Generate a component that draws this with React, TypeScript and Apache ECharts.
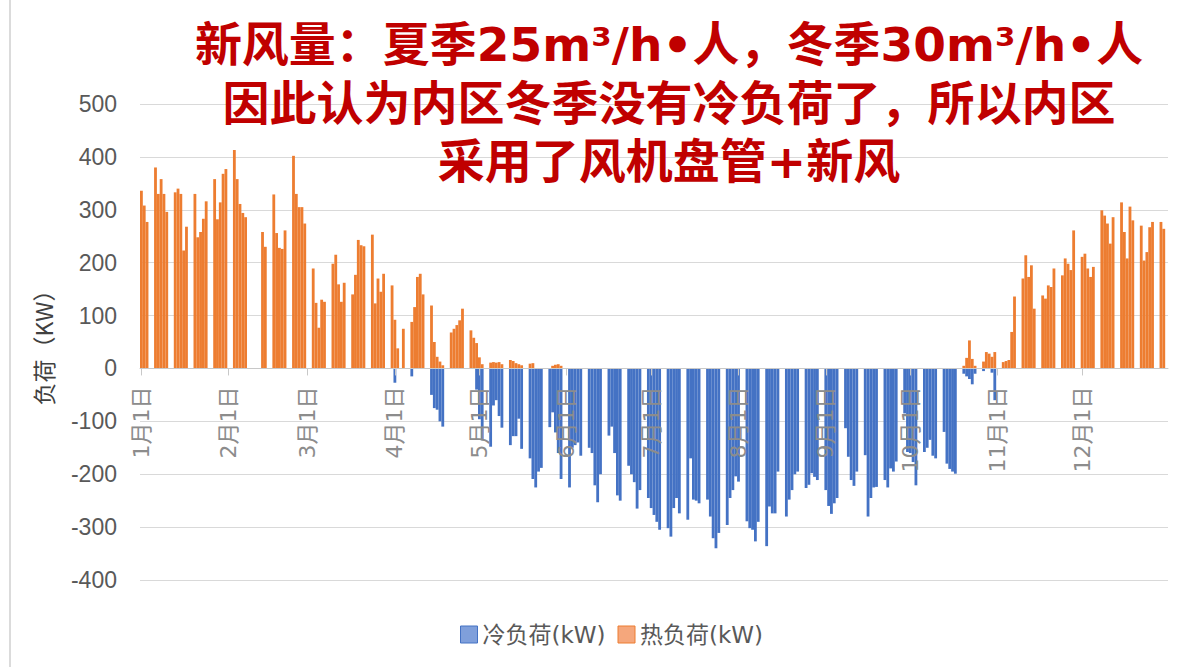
import React, { useEffect, useRef } from 'react';
import * as echarts from 'echarts';

// ---------- data ----------
const MONTH_DAYS = [31, 28, 31, 30, 31, 30, 31, 31, 30, 31, 30, 31];
const COOL_NAME = '冷负荷(kW)';
const HEAT_NAME = '热负荷(kW)';
const Y_NAME = '负荷（KW）';
const TITLE_LINES = [
  '新风量：夏季25m³/h•人，冬季30m³/h•人',
  '因此认为内区冬季没有冷负荷了，所以内区',
  '采用了风机盘管+新风',
];
const Y_MIN = -400;
const Y_MAX = 500;
const Y_STEP = 100;

// daily categories 1月1日 … 12月31日
const days: string[] = [];
MONTH_DAYS.forEach((n, m) => {
  for (let d = 1; d <= n; d++) days.push(`${m + 1}月${d}日`);
});

// heating load (kW), one value per day; rows are Mon–Sun weeks (first row Wed 1/1 – Sun 1/5)
const heatLoad = [
  336, 308, 277, 0, 0, // 1/1
  380, 330, 358, 330, 296, 0, 0, // 1/6
  333, 340, 330, 223, 268, 0, 0, // 1/13
  330, 248, 258, 283, 316, 0, 0, // 1/20
  358, 282, 314, 368, 377, 0, 0, // 1/27
  413, 358, 311, 294, 286, 0, 0, // 2/3
  0, 0, 0, 258, 230, 0, 0, // 2/10
  329, 256, 228, 226, 261, 0, 0, // 2/17
  402, 330, 305, 305, 274, 0, 0, // 2/24
  189, 124, 77, 130, 126, 0, 0, // 3/3
  198, 215, 159, 126, 162, 0, 0, // 3/10
  140, 177, 243, 233, 231, 0, 0, // 3/17
  253, 123, 170, 145, 179, 0, 0, // 3/24
  157, 92, 38, 0, 75, 0, 0, // 3/31
  88, 116, 173, 179, 140, 0, 0, // 4/7
  119, 50, 22, 13, 6, 0, 0, // 4/14
  68, 75, 82, 91, 113, 0, 0, // 4/21
  72, 58, 48, 21, 8, 0, 0, // 4/28
  11, 12, 11, 12, 8, 0, 0, // 5/5
  16, 14, 10, 8, 6, 0, 0, // 5/12
  9, 10, 0, 0, 0, 0, 0, // 5/19
  0, 5, 7, 8, 5, 0, 0, // 5/26
  0, 0, 0, 0, 0, 0, 0, // 6/2
  0, 0, 0, 0, 0, 0, 0, // 6/9
  0, 0, 0, 0, 0, 0, 0, // 6/16
  0, 0, 0, 0, 0, 0, 0, // 6/23
  0, 0, 0, 0, 0, 0, 0, // 6/30
  0, 0, 0, 0, 0, 0, 0, // 7/7
  0, 0, 0, 0, 0, 0, 0, // 7/14
  0, 0, 0, 0, 0, 0, 0, // 7/21
  0, 0, 0, 0, 0, 0, 0, // 7/28
  0, 0, 0, 0, 0, 0, 0, // 8/4
  0, 0, 0, 0, 0, 0, 0, // 8/11
  0, 0, 0, 0, 0, 0, 0, // 8/18
  0, 0, 0, 0, 0, 0, 0, // 8/25
  0, 0, 0, 0, 0, 0, 0, // 9/1
  0, 0, 0, 0, 0, 0, 0, // 9/8
  0, 0, 0, 0, 0, 0, 0, // 9/15
  0, 0, 0, 0, 0, 0, 0, // 9/22
  0, 0, 0, 0, 0, 0, 0, // 9/29
  0, 0, 0, 0, 0, 0, 0, // 10/6
  0, 0, 0, 0, 0, 0, 0, // 10/13
  5, 20, 53, 18, 5, 0, 0, // 10/20
  13, 31, 28, 22, 31, 0, 0, // 10/27
  12, 14, 16, 69, 136, 0, 0, // 11/3
  170, 214, 173, 195, 113, 0, 0, // 11/10
  138, 132, 157, 154, 189, 0, 0, // 11/17
  176, 208, 198, 186, 261, 0, 0, // 11/24
  211, 217, 189, 173, 192, 0, 0, // 12/1
  299, 289, 274, 236, 286, 0, 0, // 12/8
  314, 258, 208, 306, 280, 0, 0, // 12/15
  270, 204, 220, 267, 277, 0, 0, // 12/22
  277, 264, 0, // 12/29
];

// cooling load (kW), same layout
const coolLoad = [
  0, 0, 0, 0, 0, // 1/1
  0, 0, 0, 0, 0, 0, 0, // 1/6
  0, 0, 0, 0, 0, 0, 0, // 1/13
  0, 0, 0, 0, 0, 0, 0, // 1/20
  0, 0, 0, 0, 0, 0, 0, // 1/27
  0, 0, 0, 0, 0, 0, 0, // 2/3
  0, 0, 0, 0, 0, 0, 0, // 2/10
  0, 0, 0, 0, 0, 0, 0, // 2/17
  0, 0, 0, 0, 0, 0, 0, // 2/24
  0, 0, 0, 0, 0, 0, 0, // 3/3
  0, 0, 0, 0, 0, 0, 0, // 3/10
  0, 0, 0, 0, 0, 0, 0, // 3/17
  0, 0, 0, 0, 0, 0, 0, // 3/24
  0, -27, 0, 0, 0, 0, 0, // 3/31
  -15, 0, 0, 0, 0, 0, 0, // 4/7
  -50, -75, -78, -100, -110, 0, 0, // 4/14
  0, 0, 0, 0, 0, 0, 0, // 4/21
  0, 0, -40, -96, -136, 0, 0, // 4/28
  -148, -70, -60, -90, -112, 0, 0, // 5/5
  -145, -128, -128, -95, -152, 0, 0, // 5/12
  -170, -209, -225, -195, -188, 0, 0, // 5/19
  -111, -83, -121, -160, -209, 0, 0, // 5/26
  -225, -150, -145, -140, -165, 0, 0, // 6/2
  -150, -160, -221, -253, -200, 0, 0, // 6/9
  -127, -110, -160, -240, -250, 0, 0, // 6/16
  -184, -200, -215, -265, -230, 0, 0, // 6/23
  -245, -264, -277, -290, -305, 0, 0, // 6/30
  -302, -318, -264, -245, -274, 0, 0, // 7/7
  -286, -170, -248, -250, -255, 0, 0, // 7/14
  -248, -280, -321, -340, -311, 0, 0, // 7/21
  -296, -245, -230, -204, -214, 0, 0, // 7/28
  -289, -302, -305, -327, -290, 0, 0, // 8/4
  -336, -261, -274, -274, -195, 0, 0, // 8/11
  -280, -248, -230, -200, -195, 0, 0, // 8/18
  -226, -220, -198, -205, -211, 0, 0, // 8/25
  -230, -260, -275, -255, -245, 0, 0, // 9/1
  -113, -167, -211, -222, -195, 0, 0, // 9/8
  -164, -280, -245, -225, -224, 0, 0, // 9/15
  -211, -225, -189, -195, -176, 0, 0, // 9/22
  -85, -158, -160, -177, -221, 0, 0, // 9/29
  -158, -150, -135, -165, -170, 0, 0, // 10/6
  -120, -180, -190, -195, -199, 0, 0, // 10/13
  -10, -15, -20, -30, -10, 0, 0, // 10/20
  -5, 0, 0, -8, -60, 0, 0, // 10/27
  0, 0, 0, 0, 0, 0, 0, // 11/3
  0, 0, 0, 0, 0, 0, 0, // 11/10
  0, 0, 0, 0, 0, 0, 0, // 11/17
  0, 0, 0, 0, 0, 0, 0, // 11/24
  0, 0, 0, 0, 0, 0, 0, // 12/1
  0, 0, 0, 0, 0, 0, 0, // 12/8
  0, 0, 0, 0, 0, 0, 0, // 12/15
  0, 0, 0, 0, 0, 0, 0, // 12/22
  0, 0, 0, // 12/29
];

const CJK = '"Noto Sans CJK SC", "Noto Sans", sans-serif';
const WIDE = '"DejaVu Sans", "Noto Sans CJK SC", sans-serif';
const isMonthStart = (_i: number, v: string) => String(v).endsWith('月1日');

const GRID_TOP = 104;
const GRID_BOTTOM = 87;
const CHART_H = 667;

export default function App() {
  const ref = useRef<HTMLDivElement>(null);
  useEffect(() => {
    if (!ref.current) return;
    const chart = echarts.init(ref.current, null, { renderer: 'svg' });
    // move the category axis (line, ticks, labels) up to the value 0
    const plotH = CHART_H - GRID_TOP - GRID_BOTTOM;
    const zeroFromBottom = (plotH * (0 - Y_MIN)) / (Y_MAX - Y_MIN);
    chart.setOption({
      animation: false,
      backgroundColor: '#ffffff',
      grid: { left: 140, right: 18, top: GRID_TOP, bottom: GRID_BOTTOM },
      legend: {
        left: 455,
        top: 618,
        icon: 'rect',
        itemWidth: 17,
        itemHeight: 17,
        itemGap: 12,
        textStyle: { fontSize: 23, color: '#595959', fontFamily: WIDE },
        data: [
          { name: COOL_NAME, itemStyle: { color: '#7f9fdb', borderColor: '#4472c4', borderWidth: 1 } },
          { name: HEAT_NAME, itemStyle: { color: '#f5a77c', borderColor: '#ed7d31', borderWidth: 1 } },
        ],
      },
      xAxis: {
        type: 'category',
        data: days,
        boundaryGap: true,
        z: 10,
        offset: -zeroFromBottom,
        axisLine: { onZero: false, lineStyle: { color: '#c8c8c8', width: 1 } },
        axisTick: { show: true, interval: isMonthStart, alignWithLabel: true, length: 7, lineStyle: { color: '#c8c8c8' } },
        axisLabel: { interval: isMonthStart, rotate: 90, margin: 18, fontSize: 22, color: '#8c8c8c', fontFamily: WIDE },
        splitLine: { show: false },
      },
      yAxis: {
        type: 'value',
        min: Y_MIN,
        max: Y_MAX,
        interval: Y_STEP,
        name: Y_NAME,
        nameLocation: 'middle',
        nameGap: 86,
        nameRotate: 90,
        nameTextStyle: { fontSize: 23, color: '#404040', fontFamily: CJK },
        axisLine: { show: false },
        axisTick: { show: false },
        axisLabel: { fontSize: 23, color: '#595959', margin: 23, fontFamily: '"Liberation Sans", Arial, sans-serif' },
        splitLine: { lineStyle: { color: '#d9d9d9', width: 1 } },
      },
      series: [
        {
          name: COOL_NAME,
          type: 'bar',
          data: coolLoad,
          itemStyle: { color: '#4472C4' },
          barGap: '-100%',
          barCategoryGap: '0%',
        },
        {
          name: HEAT_NAME,
          type: 'bar',
          data: heatLoad,
          itemStyle: { color: '#ED7D31' },
          barGap: '-100%',
          barCategoryGap: '0%',
        },
      ],
      graphic: [
        {
          type: 'line',
          z: 50,
          shape: { x1: 10, y1: 0, x2: 10, y2: 667 },
          style: { stroke: '#cfcfcf', lineWidth: 1.5 },
        },
        ...TITLE_LINES.map((t, i) => ({
          type: 'text',
          z: 100,
          x: 669,
          y: [44, 103, 161][i],
          style: {
            text: t,
            fill: '#C00000',
            font: `bold 47px "DejaVu Sans", "Noto Sans CJK SC", sans-serif`,
            lineHeight: 54,
            textAlign: 'center',
            textVerticalAlign: 'middle',
            align: 'center',
            verticalAlign: 'middle',
          },
        })),
      ],
    });
    return () => chart.dispose();
  }, []);
  return (
    <div
      ref={ref}
      style={{ position: 'absolute', left: 0, top: 0, width: 1186, height: 667, background: '#fff' }}
    />
  );
}
